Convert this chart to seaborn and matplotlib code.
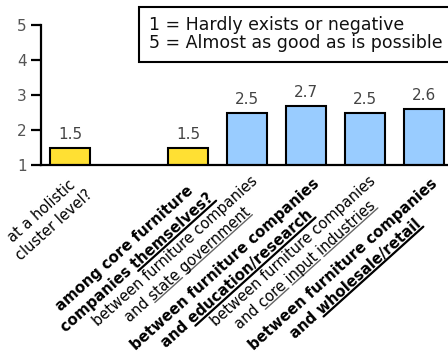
import matplotlib
matplotlib.use('Agg')
import matplotlib.pyplot as plt
import matplotlib.transforms as mtransforms
from matplotlib.font_manager import FontProperties
from matplotlib.lines import Line2D
import numpy as np
import pandas as pd
import seaborn as sns

# Chart data
label_lines = [['at a holistic', 'cluster level?'],
               [],
               ['among core furniture', 'companies themselves?'],
               ['between furniture companies', 'and state government'],
               ['between furniture companies', 'and education/research'],
               ['between furniture companies', 'and core input industries'],
               ['between furniture companies', 'and wholesale/retail']]
underlined = [[], [], ['themselves?'], ['state', 'government'],
              ['education/research'], ['core', 'input', 'industries'],
              ['wholesale/retail']]
bold_labels = [False, False, True, False, True, False, True]
values = [1.5, np.nan, 1.5, 2.5, 2.7, 2.5, 2.6]
groups = ['core', 'core', 'core', 'link', 'link', 'link', 'link']
y_ticks = [1, 2, 3, 4, 5]
note_lines = ['1 = Hardly exists or negative', '5 = Almost as good as is possible']

categories = ['\n'.join(l) if l else ' ' for l in label_lines]
df = pd.DataFrame({'category': categories, 'value': values, 'group': groups})

sns.set_style('white')
plt.rcParams['font.family'] = ['DejaVu Sans']

fig = plt.figure(figsize=(4.48, 3.58), dpi=100)
ax = fig.add_axes([40.5 / 448, 1 - 165 / 358, 413 / 448, 140 / 358])

sns.barplot(data=df, x='category', y='value', hue='group', order=categories,
            palette={'core': '#FFE033', 'link': '#99CCFF'}, dodge=False,
            saturation=1, width=0.68, edgecolor='black', linewidth=1.5,
            legend=False, ax=ax)

ax.set_ylim(1, 5)
ax.set_xlim(-0.5, 6.5)
ax.set_yticks(y_ticks)
ax.set_xlabel('')
ax.set_ylabel('')
for s in ['top', 'right']:
    ax.spines[s].set_visible(False)
for s in ['left', 'bottom']:
    ax.spines[s].set_linewidth(1.6)
    ax.spines[s].set_color('black')
ax.tick_params(axis='y', length=7, width=1.6, direction='out', labelsize=11,
               left=True, pad=3, color='black', labelcolor='#555555')
ax.tick_params(axis='x', length=0)
ax.set_xticks(range(len(categories)))
ax.set_xticklabels([])

# value labels above bars
for i, v in enumerate(values):
    if not np.isnan(v):
        ax.annotate(f'{v:.1f}', (i, v), xytext=(0, 4), textcoords='offset points',
                    ha='center', va='bottom', fontsize=11, color='#444444')

# rotated category labels, drawn line by line so words can be underlined
renderer = fig.canvas.get_renderer()
ident = mtransforms.IdentityTransform()
rot = 42
ang = np.deg2rad(rot)
u = np.array([np.cos(ang), np.sin(ang)])    # along the text
n = np.array([np.sin(ang), -np.cos(ang)])   # down, across the lines


def text_w(s, fp):
    return renderer.get_text_width_height_descent(s, fp, ismath=False)[0]


for i, lines in enumerate(label_lines):
    if not lines:
        continue
    b = bold_labels[i]
    size = 10.7 if b else 10.5
    fp = FontProperties(family='DejaVu Sans', size=size,
                        weight='bold' if b else 'normal')
    px = size * 100 / 72
    lead = 1.27 * px
    first = 24 if b else 20
    widths = [text_w(l, fp) for l in lines]
    W = max(widths)
    tick = ax.transData.transform((i, 1))
    for k, (line, w) in enumerate(zip(lines, widths)):
        c = tick + (-3 - W / 2) * u + (first + k * lead) * n
        fig.text(c[0], c[1], line, transform=ident, fontproperties=fp,
                 rotation=rot, rotation_mode='anchor', ha='center',
                 va='baseline', color='black')
        if k == 0:
            continue
        left = c - (w / 2) * u
        for word in underlined[i]:
            a = line.find(word)
            s0 = w - text_w(line[a:], fp)
            s1 = text_w(line[:a + len(word)], fp)
            p0 = left + s0 * u + (2.5 if b else 2) * n
            p1 = left + s1 * u + (2.5 if b else 2) * n
            fig.add_artist(Line2D([p0[0], p1[0]], [p0[1], p1[1]], transform=ident,
                                  color='black' if b else '#666666',
                                  linewidth=1.6 if b else 1.0))

# scale note box
fig.text(295.5 / 448, 1 - 34.5 / 358, '\n'.join(note_lines), fontsize=12.5,
         ha='center', va='center', multialignment='left', linespacing=1.0,
         color='#111111',
         bbox=dict(boxstyle='square,pad=0.55', facecolor='white',
                   edgecolor='black', linewidth=1.5))

fig.savefig('out.png', dpi=100)
